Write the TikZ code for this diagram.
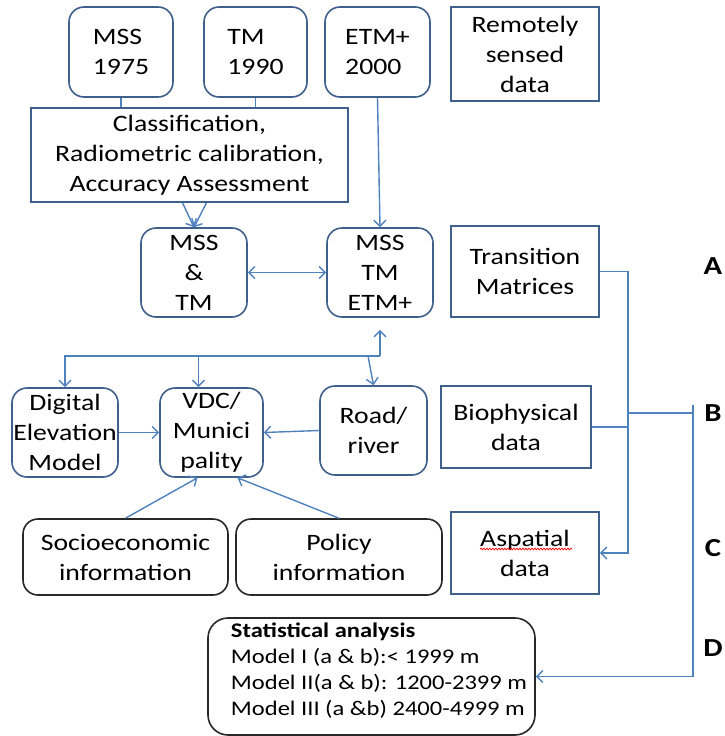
\documentclass[tikz,border=0pt]{standalone}
\usepackage{fontspec}
\setmainfont[FakeStretch=1.18]{Carlito}
\usepackage{xcolor}
\usepackage{tikz}
\usetikzlibrary{calc, arrows.meta, decorations.pathmorphing, positioning}
\definecolor{boxblue}{RGB}{64,96,140}
\definecolor{linkblue}{RGB}{79,129,189}
\definecolor{boxblack}{RGB}{40,40,40}
\tikzset{
    roundnode/.style = {draw=boxblue, line width=1.6pt, rectangle, rounded corners=15pt, inner sep=0pt,
      node distance=0em, align=center, font=\fontsize{23.5}{30}\selectfont},
    blacknode/.style = {draw=boxblack, line width=1.6pt, rectangle, rounded corners=15pt, inner sep=0pt,
      node distance=0em, align=center, font=\fontsize{23.5}{30}\selectfont},
    rectanglenode/.style = {draw=boxblue, line width=1.6pt, rectangle, inner sep=0pt,
      node distance=0em, align=center, font=\fontsize{23.5}{30}\selectfont},
    textnode/.style = {draw=none, fill=none, rectangle, inner sep=0pt, node distance=0em,
      font=\fontsize{26}{30}\selectfont\bfseries},
    link/.style = {linkblue, line width=1.4pt},
    connect/.style = {linkblue, line width=1.4pt, -{Straight Barb[length=6pt, width=12pt]}},
    twoway/.style = {linkblue, line width=1.4pt,
      {Straight Barb[length=6pt, width=12pt]}-{Straight Barb[length=6pt, width=12pt]}}
}

\begin{document}
\begin{tikzpicture}[x=1pt, y=1pt]
    \useasboundingbox (0,0) rectangle (724,-736);

    % satellite images
    \node [name=mss75, roundnode, align=left, minimum width=104pt, minimum height=90pt] at (121,-52) {MSS\\1975};
    \node [name=tm90, roundnode, align=left, minimum width=103pt, minimum height=90pt,
        right of = mss75, xshift=134.5pt] {TM\\1990};
    \node [name=etm00, roundnode, align=left, minimum width=105pt, minimum height=90pt,
        right of = mss75, xshift=256.5pt] {ETM+\\2000};
    \node [name=rsdata, rectanglenode, minimum width=148pt, minimum height=94pt,
        right of = mss75, xshift=404pt, yshift=-2pt] {Remotely\\sensed\\data};

    \node [name=classif, rectanglenode, minimum width=317pt, minimum height=94pt,
        right of = mss75, xshift=68.5pt, yshift=-103pt] {Classification,\\Radiometric calibration,\\Accuracy Assessment};
    \node [name=msstm, roundnode, minimum width=106pt, minimum height=89pt,
        right of = mss75, xshift=73pt, yshift=-220.5pt] {MSS\\\&\\TM};
    \node [name=mssall, roundnode, minimum width=106pt, minimum height=89pt,
        right of = mss75, xshift=259pt, yshift=-220.5pt] {MSS\\TM\\ETM+};
    \node [name=trans, rectanglenode, minimum width=148pt, minimum height=91pt,
        right of = mss75, xshift=404pt, yshift=-219.5pt] {Transition\\Matrices};

    % GIS layers
    \node [name=dem, roundnode, minimum width=106pt, minimum height=89pt,
        right of = mss75, xshift=-56pt, yshift=-380.5pt] {Digital\\Elevation\\Model};
    \node [name=vdc, roundnode, minimum width=103pt, minimum height=89pt,
        right of = mss75, xshift=90.5pt, yshift=-380.5pt] {VDC/\\Munici\\pality};
    \node [name=road, roundnode, minimum width=107pt, minimum height=89pt,
        right of = mss75, xshift=252.5pt, yshift=-378.5pt] {Road/\\river};
    \node [name=bio, rectanglenode, minimum width=150pt, minimum height=82pt,
        right of = mss75, xshift=395pt, yshift=-375pt] {Biophysical\\data};

    \node [name=socio, blacknode, minimum width=205pt, minimum height=76pt,
        right of = mss75, xshift=4.5pt, yshift=-505pt] {Socioeconomic\\information};
    \node [name=policy, blacknode, minimum width=206pt, minimum height=76pt,
        right of = mss75, xshift=218pt, yshift=-505pt] {Policy\\information};
    \node [name=aspatial, rectanglenode, minimum width=148pt, minimum height=82pt,
        right of = mss75, xshift=404pt, yshift=-501pt] {Aspatial\\data};

    \node [name=stat, blacknode, rounded corners=20pt, minimum width=327pt, minimum height=117pt,
        font=\fontsize{20.8}{25.8}\selectfont, right of = mss75, xshift=250.5pt, yshift=-624.5pt]
        {\begin{tabular}{@{\hspace{15pt}}l@{}}
          \textbf{Statistical analysis}\\
          Model I (a \& b):< 1999 m\\
          Model II(a \& b): 1200-2399 m\\
          Model III (a \&b) 2400-4999 m\\[10pt]
        \end{tabular}};

    \node [name=labA, textnode, right of = mss75, xshift=592pt, yshift=-214pt] {A};
    \node [name=labB, textnode, right of = mss75, xshift=592pt, yshift=-361pt] {B};
    \node [name=labC, textnode, right of = mss75, xshift=592pt, yshift=-496pt] {C};
    \node [name=labD, textnode, right of = mss75, xshift=592pt, yshift=-596pt] {D};

    % image processing
    \draw [link] (mss75.south) -- (mss75.south |- classif.north);
    \draw [link] (tm90.south) -- (tm90.south |- classif.north);
    \draw [connect] ($(classif.south)+(-7,0)$) -- (msstm.north);
    \draw [connect] ($(classif.south)+(17,0)$) -- (msstm.north);
    \draw [connect] (etm00.south) -- (mssall.north);
    \draw [twoway] (msstm.east) -- (mssall.west);

    % overlay with the GIS layers
    \coordinate (hub) at ($(mssall.south)+(0,-38)$);
    \coordinate (vdcin) at ($(vdc.north)+(-13,0)$);
    \draw [connect, shorten >=12pt] (hub) -- (mssall.south);
    \draw [connect] (hub) -| (dem.north);
    \draw [connect] (vdcin |- hub) -- (vdcin);
    \draw [connect] ($(hub)+(-12,0)$) -- (road.north);
    \draw [connect] (dem.east) -- (vdc.west);
    \draw [connect] (road.west) -- (vdc.east);
    \draw [connect] (socio.north) -- ($(vdc.south)+(-14,0)$);
    \draw [connect] (policy.north) -- ($(vdc.south)+(26,0)$);

    % tables into the analysis
    \coordinate (spine) at ($(trans.east)+(28,0)$);
    \coordinate (rail) at ($(labB.center)+(-20,8)$);
    \draw [connect] (trans.east) -- (spine) |- (aspatial.east);
    \draw [link] (bio.east) -- (bio.east -| spine);
    \draw [link] (spine |- labB) -- (rail |- labB);
    \draw [connect] (rail) |- (stat.east);

    \draw [red, line width=0.7pt, decorate, decoration={snake, amplitude=0.9pt, segment length=3pt}]
        ($(aspatial.center)+(-45,4)$) -- ($(aspatial.center)+(47,4)$);
\end{tikzpicture}
\end{document}
